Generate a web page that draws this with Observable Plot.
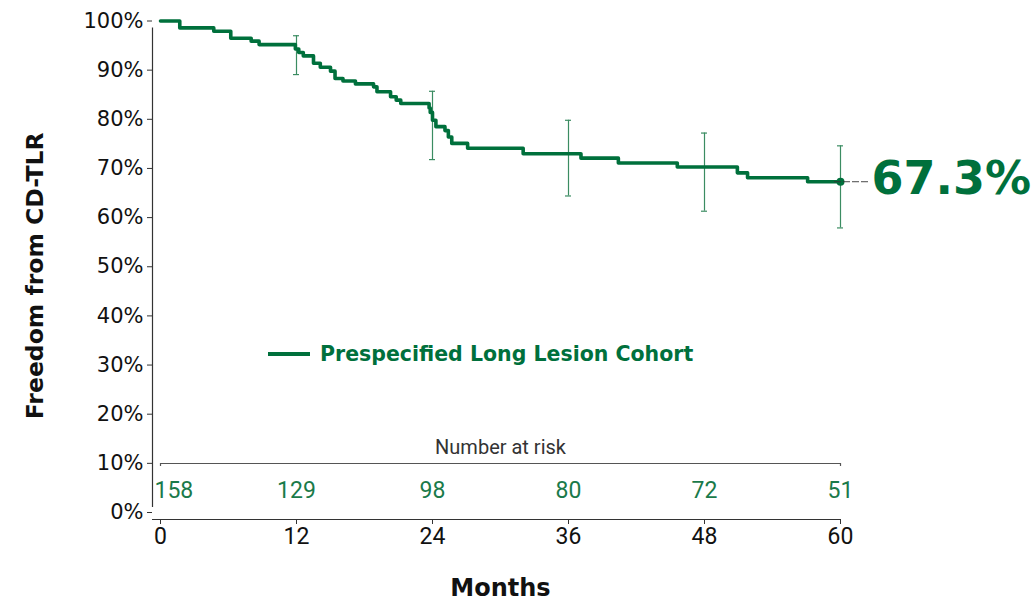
<!DOCTYPE html>
<html>
<head>
<meta charset="utf-8">
<script src="https://cdn.jsdelivr.net/npm/d3@7"></script>
<script src="https://cdn.jsdelivr.net/npm/@observablehq/plot@0.6"></script>
<style>
  html, body { margin: 0; padding: 0; background: #fff; }
  #wrap { position: relative; width: 1036px; height: 602px; overflow: hidden; }
  #legend { position: absolute; left: 268px; top: 342px; display: flex; align-items: center; font-family: "DejaVu Sans", sans-serif; font-weight: bold; font-size: 20.5px; color: #00703c; white-space: nowrap; }
  #legend .sw { width: 42px; height: 3.5px; background: #00703c; margin-right: 10px; }
</style>
</head>
<body>
<div id="wrap"><div id="legend"><span class="sw"></span><span>Prespecified Long Lesion Cohort</span></div></div>
<script>
// Kaplan-Meier step data (months, freedom from CD-TLR in %)
const kmMonths = [0, 1.7, 4.7, 6.2, 8.0, 8.7, 11.9, 12.2, 12.6, 13.5, 14.1, 15.0, 15.4, 16.1, 17.2, 18.8, 19.1, 20.3, 20.8, 21.2, 23.7, 23.8, 24.0, 24.3, 25.1, 25.4, 25.7, 27.1, 32.0, 37.1, 40.4, 45.6, 50.9, 51.8, 57.1, 60];
const kmValues = [100, 98.6, 97.9, 96.5, 95.9, 95.2, 94.3, 93.6, 92.9, 91.4, 90.6, 89.8, 88.3, 87.8, 87.2, 86.6, 85.6, 84.6, 83.9, 83.2, 82.3, 81.4, 79.8, 78.5, 77.7, 76.4, 75.1, 74.1, 73.0, 72.1, 71.1, 70.3, 69.1, 68.1, 67.3, 67.3];

// Confidence intervals
const ciMonths = [12, 24, 36, 48, 60];
const ciLow = [89.1, 71.8, 64.4, 61.3, 57.9];
const ciHigh = [97.0, 85.7, 79.8, 77.2, 74.6];

// Number at risk
const riskMonths = [0, 12, 24, 36, 48, 60];
const riskCounts = [158, 129, 98, 80, 72, 51];

const xTicks = [0, 12, 24, 36, 48, 60];
const yTicks = [0, 10, 20, 30, 40, 50, 60, 70, 80, 90, 100];

const finalLabel = "67.3%";
const seriesName = "Prespecified Long Lesion Cohort";

const GREEN = "#00703c";
const RISK_GREEN = "#1a7a4a";
const CI_GREEN = "#3b8c62";

const km = kmMonths.map((t, i) => ({t, v: kmValues[i] / 100}));
const ci = ciMonths.map((t, i) => ({t, lo: ciLow[i] / 100, hi: ciHigh[i] / 100}));
const risk = riskMonths.map((t, i) => ({t, n: riskCounts[i], i}));
const last = km[km.length - 1];

const chart = Plot.plot({
  width: 1036,
  height: 602,
  marginLeft: 160,
  marginRight: 196,
  marginTop: 20.5,
  marginBottom: 90,
  x: {domain: [0, 60]},
  y: {domain: [0, 1]},
  style: {background: "white", overflow: "visible"},
  marks: [
    // y axis line
    Plot.ruleX([0], {dx: -8, y1: 0, y2: 1, insetTop: -5, insetBottom: -7, stroke: "#333", strokeWidth: 1.2}),
    // x axis line
    Plot.ruleY([0], {dy: 7, x1: 0, x2: 60, insetLeft: -8, stroke: "#333", strokeWidth: 1.2}),
    Plot.axisY({ticks: yTicks.map(d => d / 100), tickFormat: d3.format(".0%"), dx: -8, tickSize: 5, tickPadding: 4,
      fontSize: 21, fontFamily: "DejaVu Sans", fill: "#111", stroke: "#333", label: null}),
    Plot.axisX({ticks: xTicks, tickFormat: d => d, dy: 7, tickSize: 5, tickPadding: 3,
      fontSize: 23, fontFamily: "Roboto", fill: "#111", stroke: "#333", label: null}),
    // number at risk bracket
    Plot.ruleY([0], {dy: -49, x1: xTicks[0], x2: xTicks[xTicks.length - 1], stroke: "#555", strokeWidth: 1.2}),
    Plot.ruleX([xTicks[0], xTicks[xTicks.length - 1]], {y1: 0, y2: 0, dy: -46, insetTop: -3, stroke: "#555", strokeWidth: 1.2}),
    Plot.text(["Number at risk"], {frameAnchor: "bottom", lineAnchor: "middle", dy: -65, fontSize: 20, fontFamily: "Roboto", fill: "#333"}),
    Plot.text(risk.filter(d => d.i === 0), {x: "t", y: 0, text: "n", dy: -22, dx: -6, textAnchor: "start", fontSize: 23, fontFamily: "Roboto", fill: RISK_GREEN}),
    Plot.text(risk.filter(d => d.i > 0), {x: "t", y: 0, text: "n", dy: -22, fontSize: 23, fontFamily: "Roboto", fill: RISK_GREEN}),
    // confidence intervals
    Plot.ruleX(ci, {x: "t", y1: "lo", y2: "hi", stroke: CI_GREEN, strokeWidth: 1.2}),
    Plot.ruleY(ci, {y: "lo", x1: "t", x2: "t", insetLeft: -3, insetRight: -3, stroke: CI_GREEN, strokeWidth: 1.2}),
    Plot.ruleY(ci, {y: "hi", x1: "t", x2: "t", insetLeft: -3, insetRight: -3, stroke: CI_GREEN, strokeWidth: 1.2}),
    // KM curve
    Plot.line(km, {x: "t", y: "v", curve: "step-after", stroke: GREEN, strokeWidth: 3.6}),
    Plot.dot([last], {x: "t", y: "v", r: 4, fill: GREEN}),
    // connector and final value
    Plot.ruleY([last], {y: "v", x1: "t", x2: "t", insetLeft: -6, insetRight: -30, stroke: "#333", strokeWidth: 0.9, strokeDasharray: "7,2"}),
    Plot.text([last], {x: "t", y: "v", text: () => finalLabel, dx: 31, dy: -2, textAnchor: "start", fontSize: 46, fontWeight: "bold", fontFamily: "DejaVu Sans", fill: GREEN}),
    // axis titles
    Plot.text(["Months"], {frameAnchor: "bottom", lineAnchor: "middle", dy: 76, fontSize: 24, fontWeight: "bold", fontFamily: "DejaVu Sans", fill: "#111"}),
    Plot.text(["Freedom from CD-TLR"], {frameAnchor: "left", textAnchor: "middle", lineAnchor: "middle", dx: -125, dy: 9, rotate: -90, fontSize: 23.5, fontWeight: "bold", fontFamily: "DejaVu Sans", fill: "#111"})
  ]
});
document.getElementById("wrap").prepend(chart);
document.querySelector("#legend span:last-child").textContent = seriesName;
</script>
</body>
</html>
